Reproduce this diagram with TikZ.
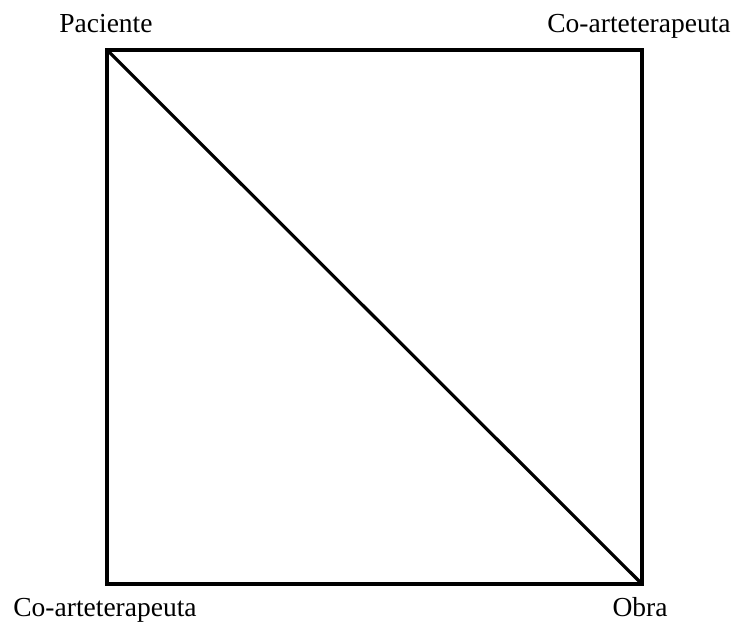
\documentclass[tikz,border=0pt]{standalone}
\usepackage{fontspec}
\setmainfont{Liberation Serif}
\usepackage{tikz}
\tikzset{edge/.style={line width=3.2pt,line join=miter}}
\tikzset{rol/.style={font=\fontsize{27.5}{33}\selectfont,anchor=base,inner sep=0pt}}
\begin{document}
\begin{tikzpicture}[x=1pt,y=1pt]
  \useasboundingbox (0,0) rectangle (740,626);
  % corners of the square
  \coordinate (pac) at (107,576);
  \coordinate (coa) at (642,576);
  \coordinate (cob) at (107,42);
  \coordinate (obr) at (642,42);
  \draw[edge] (pac) -- (coa) -- (obr) -- (cob) -- cycle;
  \draw[edge] (pac) -- (obr);
  % labels
  \node[rol] (lpac) at (106,593) {Paciente};
  \node[rol] (lcoa) at (639,593) {Co-arteterapeuta};
  \node[rol] (lcob) at (105,9) {Co-arteterapeuta};
  \node[rol] (lobr) at (640,9) {Obra};
\end{tikzpicture}
\end{document}
